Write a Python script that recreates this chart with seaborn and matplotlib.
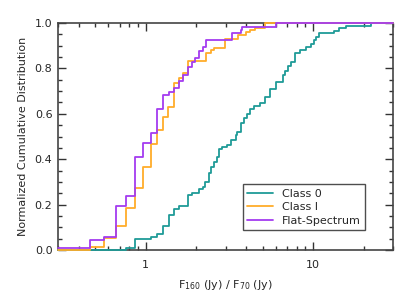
import matplotlib
matplotlib.use("Agg")
import matplotlib.pyplot as plt
import matplotlib.ticker as mticker
import seaborn as sns
import pandas as pd

# Step positions (ratio F160/F70) and cumulative fractions after each step
class0_x = [0.3, 0.762, 0.865, 1.070, 1.172, 1.272, 1.373, 1.470, 1.573, 1.786, 1.886,
            2.075, 2.191, 2.272, 2.377, 2.454, 2.567, 2.662, 2.748, 2.875, 3.077, 3.250,
            3.446, 3.525, 3.723, 3.861, 4.041, 4.227, 4.423, 4.799, 5.182, 5.548, 6.020,
            6.592, 6.803, 7.119, 7.381, 7.794, 8.343, 9.134, 9.777, 10.14, 10.37, 10.85,
            13.30, 14.37, 15.73, 22.31, 30.0]
class0_y = [0.0, 0.007, 0.047, 0.056, 0.069, 0.106, 0.154, 0.179, 0.194, 0.242, 0.253,
            0.267, 0.279, 0.301, 0.338, 0.367, 0.389, 0.411, 0.443, 0.452, 0.463, 0.485,
            0.507, 0.521, 0.558, 0.580, 0.599, 0.620, 0.634, 0.646, 0.673, 0.708, 0.742,
            0.771, 0.790, 0.810, 0.830, 0.866, 0.881, 0.893, 0.906, 0.925, 0.940, 0.954,
            0.966, 0.976, 0.987, 1.0, 1.0]

class1_x = [0.3, 0.463, 0.562, 0.668, 0.765, 0.865, 0.969, 1.075, 1.177, 1.272, 1.361,
            1.477, 1.580, 1.684, 1.786, 2.292, 2.454, 2.567, 2.968, 3.557, 3.950, 4.188,
            4.483, 5.135, 30.0]
class1_y = [0.0, 0.015, 0.051, 0.106, 0.186, 0.275, 0.367, 0.465, 0.530, 0.587, 0.630,
            0.734, 0.756, 0.778, 0.833, 0.866, 0.881, 0.888, 0.930, 0.947, 0.959, 0.969,
            0.976, 1.0, 1.0]

flat_x = [0.3, 0.463, 0.562, 0.668, 0.765, 0.865, 0.969, 1.075, 1.172, 1.277, 1.380,
          1.477, 1.573, 1.677, 1.786, 1.886, 1.983, 2.084, 2.191, 2.292, 3.294, 3.689,
          3.774, 5.994, 30.0]
flat_y = [0.010, 0.044, 0.056, 0.194, 0.240, 0.410, 0.470, 0.517, 0.621, 0.681, 0.698,
          0.714, 0.743, 0.772, 0.804, 0.830, 0.847, 0.878, 0.893, 0.927, 0.955, 0.970,
          0.984, 1.0, 1.0]

labels = ["Class 0", "Class I", "Flat-Spectrum"]
colors = ["#1f9b97", "#ffad2a", "#a43cf0"]

sns.set_style("white")
plt.rcParams["font.family"] = ["DejaVu Sans"]
plt.rcParams["font.size"] = 8

fig = plt.figure(figsize=(4.15, 2.97), dpi=100)
ax = fig.add_axes([58 / 415, 47 / 297, 335 / 415, 227 / 297])

series = [(class0_x, class0_y), (class1_x, class1_y), (flat_x, flat_y)]
for i, ((xs, ys), lab, col) in enumerate(zip(series, labels, colors)):
    df = pd.DataFrame({"x": xs, "y": ys})
    sns.lineplot(data=df, x="x", y="y", ax=ax, drawstyle="steps-post",
                 estimator=None, sort=False, color=col, lw=1.3, label=lab,
                 clip_on=False, zorder=3 + i)

ax.set_xscale("log")
ax.set_xlim(0.3, 30)
ax.set_ylim(0, 1.0)
ax.xaxis.set_major_locator(mticker.FixedLocator([1, 10]))
ax.xaxis.set_major_formatter(mticker.FixedFormatter(["1", "10"]))
ax.xaxis.set_minor_locator(mticker.LogLocator(base=10, subs=range(2, 10)))
ax.xaxis.set_minor_formatter(mticker.NullFormatter())
ax.yaxis.set_major_locator(mticker.MultipleLocator(0.2))
ax.yaxis.set_minor_locator(mticker.MultipleLocator(0.05))
ax.yaxis.set_major_formatter(mticker.FormatStrFormatter("%.1f"))

ax.tick_params(which="both", direction="in", top=True, right=True,
               bottom=True, left=True, color="#333333", width=1.0)
ax.tick_params(which="major", length=5.5, labelsize=8)
ax.tick_params(axis="x", which="major", pad=7)
ax.tick_params(axis="y", which="major", pad=4)
ax.tick_params(which="minor", length=3)
for s in ax.spines.values():
    s.set_color("#444444")
    s.set_linewidth(1.2)

ax.set_xlabel("F$_{160}$ (Jy) / F$_{70}$ (Jy)", fontsize=8, labelpad=6)
ax.set_ylabel("Normalized Cumulative Distribution", fontsize=8, labelpad=5)

leg = ax.legend(loc="lower right", bbox_to_anchor=(0.916, 0.088), borderaxespad=0,
                frameon=True, fancybox=False, fontsize=8, handlelength=2.3,
                handletextpad=0.8, labelspacing=0.3, borderpad=0.4)
leg.get_frame().set_edgecolor("#222222")
leg.get_frame().set_linewidth(1.0)
leg.set_zorder(10)
for line in leg.get_lines():
    line.set_linewidth(1.3)

fig.savefig("out.png", dpi=100)
